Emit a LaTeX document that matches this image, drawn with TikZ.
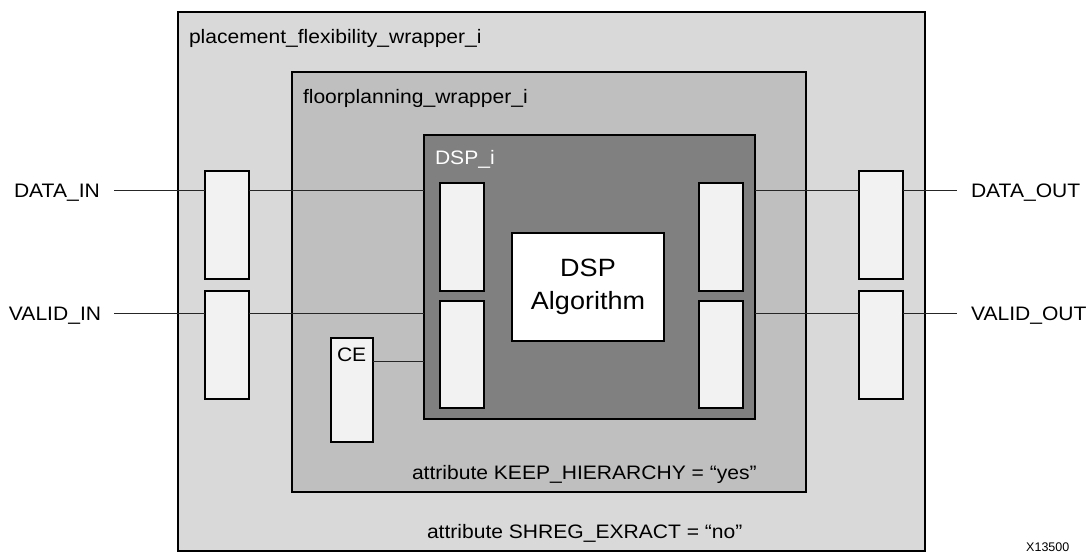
\documentclass[tikz,border=0pt]{standalone}
\usepackage{fontspec}
\setmainfont{Liberation Sans}
\begin{document}
\begin{tikzpicture}[x=1pt,y=-1pt,
  blk/.style={draw=black, line width=2pt, inner sep=0pt, outer sep=0pt},
  outerbox/.style={blk, fill=black!15},
  floorbox/.style={blk, fill=black!25},
  dspbox/.style={blk, fill=black!50},
  algbox/.style={blk, fill=white},
  regbox/.style={blk, fill=black!5, minimum width=44pt, minimum height=108pt},
  txt/.style={inner sep=0pt, outer sep=0pt, font=\fontsize{19.5}{23}\selectfont, xscale=1.08},
  wire/.style={draw=black!85, line width=1pt}]
\useasboundingbox (0,0) rectangle (1089,553);
% hierarchy boxes
\node[outerbox, minimum width=747pt, minimum height=538pt] (outer) at (551.5,281.5) {};
\node[floorbox, minimum width=514pt, minimum height=420pt] (floor) at (549,282) {};
\node[dspbox, minimum width=331pt, minimum height=284pt] (dsp) at (589.5,277) {};
\node[algbox, minimum width=152pt, minimum height=108pt] (alg) at (588,287) {};
\node[inner sep=0pt, font=\fontsize{25}{33}\selectfont, xscale=1.08, align=center, anchor=center] (algt) at (588,287) {DSP\\Algorithm};
% labels
\node[txt, anchor=base west] (plab) at (189,44) {placement\_flexibility\_wrapper\_i};
\node[txt, anchor=base west] (flab) at (303,103.5) {floorplanning\_wrapper\_i};
\node[txt, anchor=base west, text=white] (dlab) at (435,165) {DSP\_i};
\node[txt, anchor=base west] (keep) at (412,479) {attribute KEEP\_HIERARCHY = “yes”};
\node[txt, anchor=base west] (shreg) at (427,538) {attribute SHREG\_EXRACT = “no”};
% registers
\node[regbox] (ra1) at (227,225) {};
\node[regbox] (ra2) at (227,345) {};
\node[regbox] (rb1) at (462,237) {};
\node[regbox, minimum height=107pt] (rb2) at (462,354.5) {};
\node[regbox] (rc1) at (721,237) {};
\node[regbox, minimum height=107pt] (rc2) at (721,354.5) {};
\node[regbox] (rd1) at (881,225) {};
\node[regbox] (rd2) at (881,345) {};
\node[regbox, minimum width=42pt, minimum height=104pt] (ce) at (352,390) {};
\node[txt, anchor=base west] (celab) at (337,361) {CE};
% ports
\node[txt, anchor=base west] (din) at (14,198) {DATA\_IN};
\node[txt, anchor=base west] (vin) at (9,320) {VALID\_IN};
\node[txt, anchor=base west] (dout) at (971,198) {DATA\_OUT};
\node[txt, anchor=base west] (vout) at (971,320) {VALID\_OUT};
\node[inner sep=0pt, font=\fontsize{12.5}{14}\selectfont, anchor=base west] (xid) at (1026,551) {X13500};
\coordinate (dinL) at (114,191);
\coordinate (vinL) at (114,313);
\coordinate (doutR) at (957,191);
\coordinate (voutR) at (957,313);
\coordinate (ceL) at (373,361);
% wires
\draw[wire] (dinL) -- (ra1.west |- dinL);
\draw[wire] (ra1.east |- dinL) -- (dsp.west |- dinL);
\draw[wire] (vinL) -- (ra2.west |- vinL);
\draw[wire] (ra2.east |- vinL) -- (dsp.west |- vinL);
\draw[wire] (dsp.east |- doutR) -- (rd1.west |- doutR);
\draw[wire] (rd1.east |- doutR) -- (doutR);
\draw[wire] (dsp.east |- voutR) -- (rd2.west |- voutR);
\draw[wire] (rd2.east |- voutR) -- (voutR);
\draw[wire] (ce.east |- ceL) -- (dsp.west |- ceL);
\end{tikzpicture}
\end{document}
